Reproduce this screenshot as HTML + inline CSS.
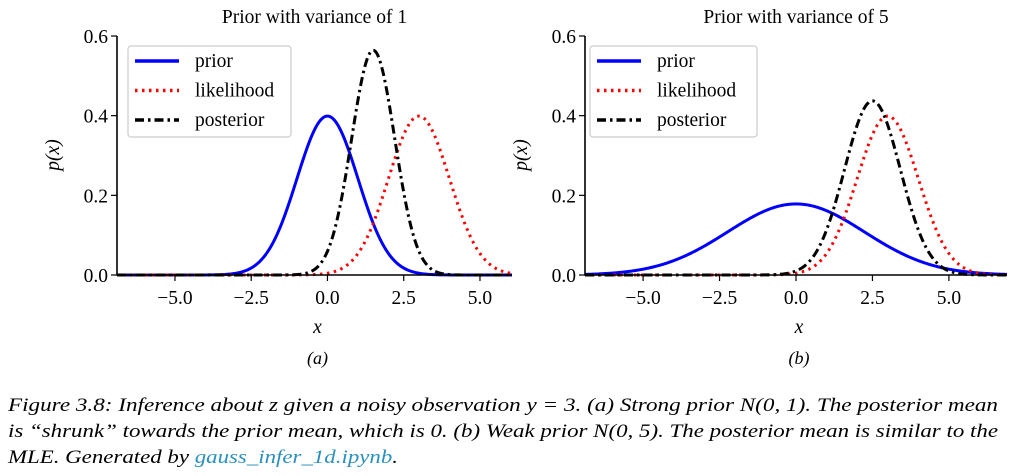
<!DOCTYPE html>
<html><head><meta charset="utf-8"><style>
body{margin:0;background:#fff}
svg{display:block;font-family:"Liberation Serif",serif}
</style></head><body>
<svg id="fig" width="1013" height="476" viewBox="0 0 1013 476" xmlns="http://www.w3.org/2000/svg">
<g id="plots"></g>
<g font-family="Liberation Serif, serif" font-style="italic" font-size="19" fill="#000">
<text x="8" y="411" textLength="990" lengthAdjust="spacingAndGlyphs">Figure 3.8: Inference about z given a noisy observation y = 3. (a) Strong prior N(0, 1). The posterior mean</text>
<text x="8" y="437" textLength="990" lengthAdjust="spacingAndGlyphs">is “shrunk” towards the prior mean, which is 0. (b) Weak prior N(0, 5). The posterior mean is similar to the</text>
<text x="8" y="463" textLength="390" lengthAdjust="spacingAndGlyphs">MLE. Generated by <tspan fill="#2a8fbd">gauss_infer_1d.ipynb</tspan>.</text>
</g>
</svg>
<script>
// data: Gaussian parameters per panel [prior, likelihood, posterior]
const panelTitles = ["Prior with variance of 1", "Prior with variance of 5"];
const panelLabels = ["(a)", "(b)"];
const seriesNames = ["prior", "likelihood", "posterior"];
const meansA = [0, 3, 1.5];
const varsA = [1, 1, 0.5];
const meansB = [0, 3, 2.5];
const varsB = [5, 1, 0.833];
const xTicks = [-5.0, -2.5, 0.0, 2.5, 5.0];
const xTickLabels = ["−5.0", "−2.5", "0.0", "2.5", "5.0"];
const yTicks = [0, 0.2, 0.4, 0.6];
const yTickLabels = ["0.0", "0.2", "0.4", "0.6"];
const xRanges = [[-6.9, 6.05], [-6.9, 6.9]];

const NS = "http://www.w3.org/2000/svg";
const root = document.getElementById("plots");
function mk(tag, attrs, parent) {
  const e = document.createElementNS(NS, tag);
  for (const k in attrs) e.setAttribute(k, attrs[k]);
  (parent || root).appendChild(e);
  return e;
}
const styles = [
  {stroke: "#0000ff", dash: null},
  {stroke: "#ff0000", dash: "2.5,4.5"},
  {stroke: "#000000", dash: "9,4,2.5,4"}
];
const panels = [
  {L: 117, R: 512, T: 36, B: 275, means: meansA, vars: varsA, legX: 128, legW: 163},
  {L: 585, R: 1007, T: 36, B: 275, means: meansB, vars: varsB, legX: 590, legW: 167}
];
panels.forEach((p, pi) => {
  const g = mk("g", {});
  
  
  const [x0, x1] = xRanges[pi];
  const sx = v => p.L + (v - x0) / (x1 - x0) * (p.R - p.L);
  const sy = v => p.B - v / 0.6 * (p.B - p.T);
  const t = mk("text", {x: (p.L + p.R) / 2, y: 23, "text-anchor": "middle", "font-size": 19.5}, g);
  t.textContent = panelTitles[pi];
  
  
  for (let s = 0; s < 3; s++) {
    const m = p.means[s], v = p.vars[s];
    let d = "";
    for (let i = 0; i <= 400; i++) {
      const xv = x0 + (x1 - x0) * i / 400;
      const yv = Math.exp(-(xv - m) * (xv - m) / (2 * v)) / Math.sqrt(2 * Math.PI * v);
      d += (i ? "L" : "M") + sx(xv).toFixed(2) + "," + sy(yv).toFixed(2);
    }
    const a = {d: d, fill: "none", stroke: styles[s].stroke, "stroke-width": 3};
    if (styles[s].dash) a["stroke-dasharray"] = styles[s].dash;
    const c = mk("path", a, g);
    
    
  }
  const ax = mk("path", {d: `M${p.L},${p.T}V${p.B}H${p.R}`, fill: "none", stroke: "#000", "stroke-width": 1.6}, g);
  
  
  xTicks.forEach((v, i) => {
    mk("line", {x1: sx(v), x2: sx(v), y1: p.B, y2: p.B + 6, stroke: "#000", "stroke-width": 1.2}, g);
    const tl = mk("text", {x: sx(v), y: p.B + 29, "text-anchor": "middle", "font-size": 19.5}, g);
    tl.textContent = xTickLabels[i];
    
    
  });
  yTicks.forEach((v, i) => {
    mk("line", {x1: p.L - 6, x2: p.L, y1: sy(v), y2: sy(v), stroke: "#000", "stroke-width": 1.2}, g);
    const tl = mk("text", {x: p.L - 9, y: sy(v) + 7, "text-anchor": "end", "font-size": 19.5}, g);
    tl.textContent = yTickLabels[i];
    
    
  });
  const xl = mk("text", {x: (p.L + p.R) / 2 + 3, y: 333, "text-anchor": "middle", "font-size": 19.5, "font-style": "italic"}, g);
  xl.textContent = "x";
  
  
  const yl = mk("text", {x: 0, y: 0, "text-anchor": "middle", "font-size": 19.5, "font-style": "italic", transform: `translate(${p.L - 58},155) rotate(-90)`}, g);
  yl.textContent = "p(x)";
  
  
  const pl = mk("text", {x: (p.L + p.R) / 2 + 3, y: 364, "text-anchor": "middle", "font-size": 18, "font-style": "italic"}, g);
  pl.textContent = panelLabels[pi];
  
  
  const lg = mk("g", {}, g);
  
  
  mk("rect", {x: p.legX, y: 46, width: p.legW, height: 91, rx: 3, fill: "#fff", "fill-opacity": 0.9, stroke: "#ccc", "stroke-width": 1.2}, lg);
  seriesNames.forEach((n, s) => {
    const yy = 61 + s * 29.5;
    const a = {x1: p.legX + 7, x2: p.legX + 51, y1: yy, y2: yy, stroke: styles[s].stroke, "stroke-width": 3.5};
    if (styles[s].dash) a["stroke-dasharray"] = styles[s].dash;
    const ln = mk("line", a, lg);
    
    
    const tx = mk("text", {x: p.legX + 67, y: yy + 6, "font-size": 19.5}, lg);
    tx.textContent = n;
    
    
  });
});
</script>
</body></html>
